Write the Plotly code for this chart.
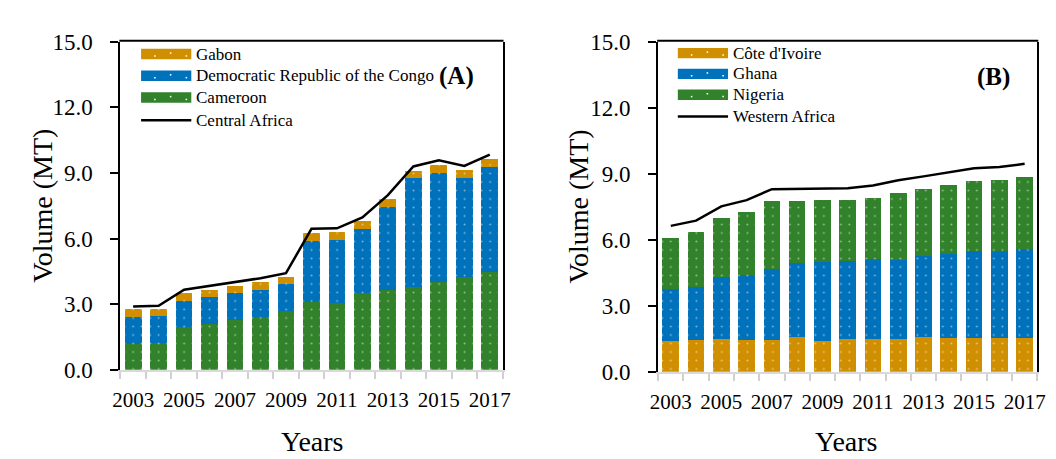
import plotly.graph_objects as go

# ---------------- data ----------------
years = list(range(2003, 2018))
tick_years = [2003, 2005, 2007, 2009, 2011, 2013, 2015, 2017]
y_ticks = [0, 3, 6, 9, 12, 15]
y_tick_labels = ["0.0", "3.0", "6.0", "9.0", "12.0", "15.0"]

# Panel A - Central Africa (MT)
cameroon = [1.20, 1.24, 1.94, 2.10, 2.27, 2.43, 2.70, 3.12, 3.06, 3.51, 3.63, 3.80, 4.03, 4.25, 4.48]
drc = [1.23, 1.22, 1.21, 1.22, 1.23, 1.23, 1.22, 2.79, 2.88, 2.94, 3.83, 4.99, 4.99, 4.54, 4.81]
gabon = [0.34, 0.34, 0.35, 0.35, 0.34, 0.34, 0.33, 0.35, 0.36, 0.34, 0.34, 0.31, 0.35, 0.33, 0.36]
central_africa = [2.90, 2.93, 3.66, 3.84, 4.02, 4.19, 4.42, 6.45, 6.47, 6.97, 7.99, 9.30, 9.58, 9.32, 9.84]

# Panel B - Western Africa (MT)
cote_divoire = [1.41, 1.44, 1.48, 1.46, 1.44, 1.60, 1.41, 1.47, 1.48, 1.50, 1.56, 1.54, 1.53, 1.53, 1.53]
ghana = [2.35, 2.39, 2.83, 2.93, 3.24, 3.34, 3.60, 3.56, 3.64, 3.57, 3.70, 3.82, 3.97, 3.97, 4.06]
nigeria = [2.34, 2.51, 2.66, 2.87, 3.09, 2.83, 2.79, 2.77, 2.76, 3.06, 3.03, 3.11, 3.16, 3.20, 3.27]
western_africa = [6.63, 6.87, 7.52, 7.80, 8.30, 8.31, 8.34, 8.34, 8.47, 8.70, 8.88, 9.05, 9.25, 9.31, 9.45]

# ---------------- styling ----------------
GOLD = "#CF8F00"
BLUE = "#0071BB"
GREEN = "#31822B"
FONT = "Liberation Serif"
W, H = 1056, 459


def px(x):
    return x / W


def py(y):
    return 1 - y / H


def pattern(color):
    return dict(shape=".", fgcolor="white", bgcolor=color, size=8.5, solidity=0.04)


fig = go.Figure()


def add_bar(name, values, color, xa, ya):
    fig.add_trace(go.Bar(
        x=years, y=values, name=name, xaxis=xa, yaxis=ya,
        marker=dict(color=color, line=dict(width=0), pattern=pattern(color)),
        showlegend=False,
    ))


add_bar("Cameroon", cameroon, GREEN, "x", "y")
add_bar("Democratic Republic of the Congo", drc, BLUE, "x", "y")
add_bar("Gabon", gabon, GOLD, "x", "y")
fig.add_trace(go.Scatter(x=years, y=central_africa, name="Central Africa", mode="lines",
                         line=dict(color="black", width=2.5), xaxis="x", yaxis="y", showlegend=False))

add_bar("Côte d'Ivoire", cote_divoire, GOLD, "x2", "y2")
add_bar("Ghana", ghana, BLUE, "x2", "y2")
add_bar("Nigeria", nigeria, GREEN, "x2", "y2")
fig.add_trace(go.Scatter(x=years, y=western_africa, name="Western Africa", mode="lines",
                         line=dict(color="black", width=2.5), xaxis="x2", yaxis="y2", showlegend=False))

boundaries = [y - 0.5 for y in years] + [years[-1] + 0.5]

xaxis_common = dict(
    range=[2002.5, 2017.5], tickvals=tick_years, ticktext=[str(t) for t in tick_years],
    ticks="", ticklabelstandoff=10,
    showline=True, linecolor="#D9D9D9", linewidth=2,
    showgrid=False, zeroline=False,
    minor=dict(tickvals=boundaries, ticks="outside", ticklen=7, tickcolor="#D0D0D0", tickwidth=2, showgrid=False),
    tickfont=dict(family=FONT, size=21, color="black"),
    fixedrange=True,
)
yaxis_common = dict(
    range=[0, 15], tickvals=y_ticks, ticktext=y_tick_labels,
    ticks="outside", ticklen=8, tickwidth=2, tickcolor="black",
    showline=True, linecolor="black", linewidth=2, mirror=True,
    showgrid=False, zeroline=False, ticklabelstandoff=13,
    tickfont=dict(family=FONT, size=23, color="black"),
    fixedrange=True,
)

fig.update_layout(
    width=W, height=H,
    margin=dict(l=0, r=0, t=0, b=0),
    paper_bgcolor="white", plot_bgcolor="white",
    barmode="stack", bargap=0.34,
    showlegend=False,
    xaxis=dict(domain=[px(106), px(494)], anchor="y", **xaxis_common),
    yaxis=dict(domain=[py(370), py(23)], anchor="x", **yaxis_common),
    xaxis2=dict(domain=[px(652), px(1037)], anchor="y2", **xaxis_common),
    yaxis2=dict(domain=[py(372), py(23)], anchor="x2", **yaxis_common),
)

shapes = []
annotations = []

# top border lines
for xl, xr in [(106, 494), (652, 1037)]:
    shapes.append(dict(type="line", xref="paper", yref="paper", x0=px(xl - 1), x1=px(xr + 1),
                       y0=py(23 - 1), y1=py(23 - 1), line=dict(color="black", width=2)))


# manual legends
def legend(entries, x_sw, x_txt, rows):
    for (label, kind, color), yc in zip(entries, rows):
        if kind == "bar":
            shapes.append(dict(type="rect", xref="paper", yref="paper",
                               x0=px(x_sw), x1=px(x_sw + 51), y0=py(yc + 5.5), y1=py(yc - 5.5),
                               fillcolor=color, line=dict(width=0)))
            for i, dx in enumerate([14, 30, 46]):
                dy = 2 if i % 2 == 0 else -1
                shapes.append(dict(type="rect", xref="paper", yref="paper",
                                   x0=px(x_sw + dx - 0.8), x1=px(x_sw + dx + 0.8),
                                   y0=py(yc + dy - 0.8), y1=py(yc + dy + 0.8),
                                   fillcolor="white", line=dict(width=0)))
        else:
            shapes.append(dict(type="line", xref="paper", yref="paper",
                               x0=px(x_sw), x1=px(x_sw + 51), y0=py(yc), y1=py(yc),
                               line=dict(color="black", width=2.5)))
        annotations.append(dict(text=label, xref="paper", yref="paper", x=px(x_txt), y=py(yc),
                                xanchor="left", yanchor="middle", showarrow=False,
                                font=dict(family=FONT, size=17, color="black")))


legend([("Gabon", "bar", GOLD), ("Democratic Republic of the Congo", "bar", BLUE),
        ("Cameroon", "bar", GREEN), ("Central Africa", "line", "black")],
       127, 181, [36, 59, 82, 106])
legend([("Côte d'Ivoire", "bar", GOLD), ("Ghana", "bar", BLUE),
        ("Nigeria", "bar", GREEN), ("Western Africa", "line", "black")],
       672, 726, [35, 57, 79, 102])

annotations.append(dict(text="<b>(A)</b>", xref="paper", yref="paper", x=px(447), y=py(59),
                        xanchor="center", yanchor="middle", showarrow=False,
                        font=dict(family=FONT, size=25, color="black")))
annotations.append(dict(text="<b>(B)</b>", xref="paper", yref="paper", x=px(993), y=py(60),
                        xanchor="center", yanchor="middle", showarrow=False,
                        font=dict(family=FONT, size=25, color="black")))

# axis titles
for xc in (27, 571):
    annotations.append(dict(text="Volume (MT)", xref="paper", yref="paper", x=px(xc), y=py(197),
                            xanchor="center", yanchor="middle", textangle=-90, showarrow=False,
                            font=dict(family=FONT, size=28, color="black")))
for xc in (301, 843):
    annotations.append(dict(text="Years", xref="paper", yref="paper", x=px(xc), y=py(446),
                            xanchor="center", yanchor="middle", showarrow=False,
                            font=dict(family=FONT, size=28, color="black")))

fig.update_layout(shapes=shapes, annotations=annotations)

fig.write_html("out.html")
